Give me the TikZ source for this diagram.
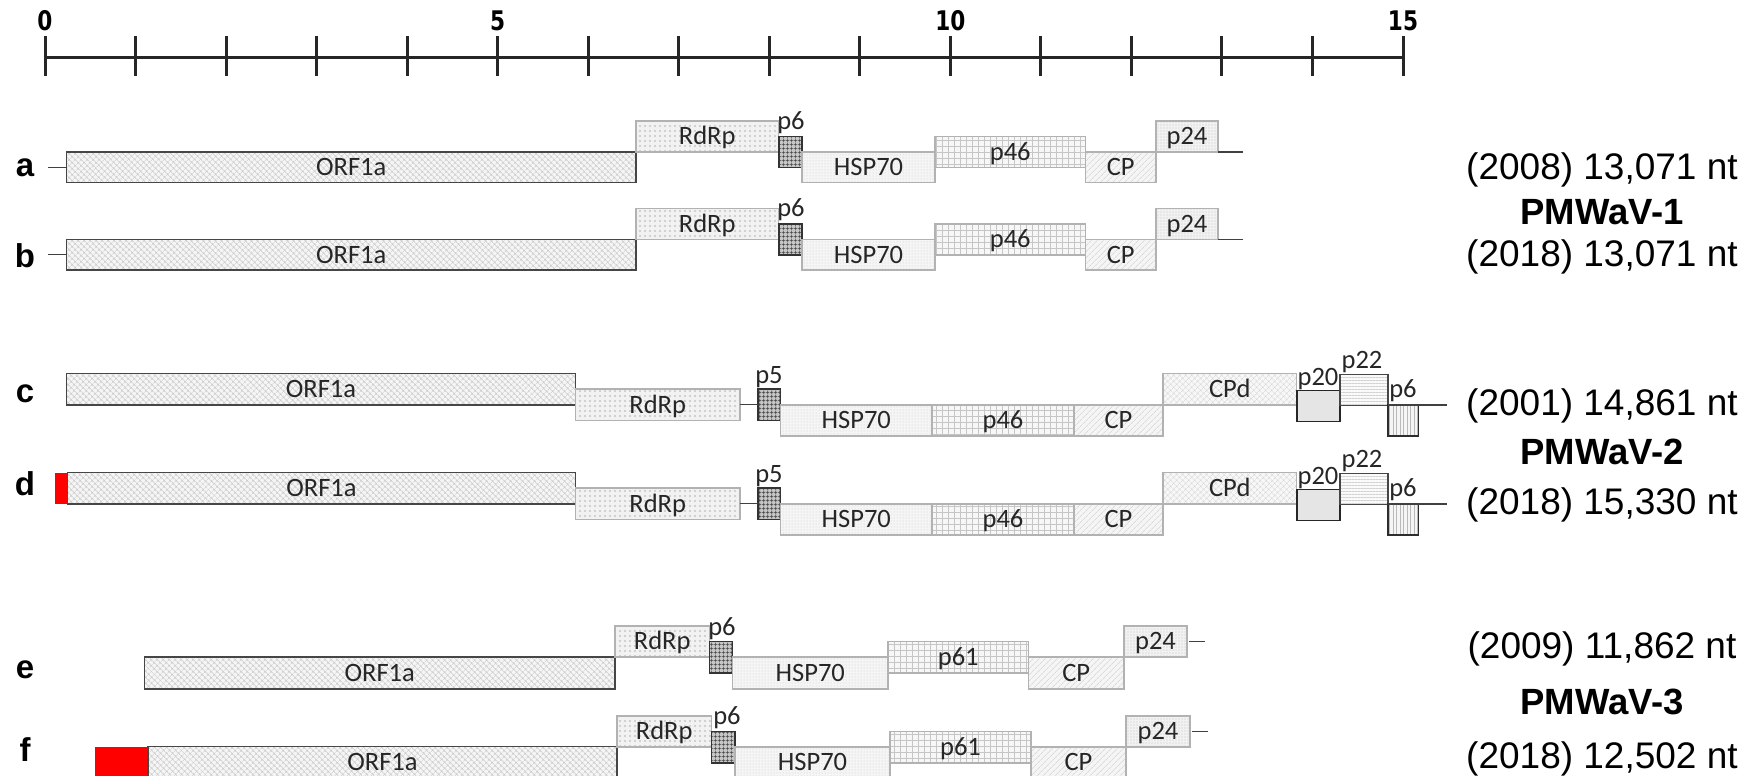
\documentclass[tikz,border=0pt]{standalone}
\usepackage{fontspec}
\usetikzlibrary{patterns.meta}
\newfontfamily\arialf{Liberation Sans}
\newfontfamily\calf{Carlito}
\newfontfamily\dvf[FakeStretch=0.8]{DejaVu Sans}
\newcommand\gene[7]{\node[gene,#2,minimum width={((#5)-(#3))*1pt},minimum height={((#6)-(#4))*1pt}] (#1) at (#3,{#4}) {#7};}
\tikzset{
 gene/.style={draw=gray!60, line width=1.3pt, inner sep=0pt, outer sep=0pt, anchor=north west,
   font=\calf\fontsize{26.5}{28}\selectfont, text=black!85, text height=16.5pt, text depth=0pt},
 orfp/.style={draw=gray!55!black, preaction={fill=gray!8}, pattern={Hatch[angle=45,distance=4pt,line width=0.5pt]}, pattern color=gray!40},
 rdrpp/.style={preaction={fill=gray!10}, pattern={Dots[distance=5pt,radius=1.1pt]}, pattern color=gray!45},
 brickp/.style={draw=gray!40!black, preaction={fill=gray!45}, pattern={Hatch[angle=0,distance=4pt,line width=0.8pt]}, pattern color=black!75},
 hspp/.style={preaction={fill=gray!8}, pattern={Dots[distance=3pt,radius=0.5pt]}, pattern color=gray!40},
 gridp/.style={preaction={fill=gray!6}, pattern={Hatch[angle=0,distance=6pt,line width=0.5pt]}, pattern color=gray!45},
 cpp/.style={preaction={fill=gray!8}, pattern={Lines[angle=45,distance=4pt,line width=0.5pt]}, pattern color=gray!40},
 dotp/.style={preaction={fill=gray!10}, pattern={Dots[distance=3pt,radius=0.6pt]}, pattern color=gray!45},
 cpdp/.style={preaction={fill=gray!6}, pattern={Hatch[angle=45,distance=4pt,line width=0.3pt]}, pattern color=gray!35},
 p20p/.style={draw=gray!30!black, fill=gray!20},
 p22p/.style={draw=gray!55!black, preaction={fill=gray!4}, pattern={Lines[angle=0,distance=3pt,line width=0.4pt]}, pattern color=gray!35},
 vlinep/.style={draw=gray!35!black, preaction={fill=gray!8}, pattern={Lines[angle=90,distance=3.5pt,line width=0.5pt]}, pattern color=gray!55},
 redp/.style={draw=none, fill=red},
 glab/.style={font=\calf\fontsize{26.5}{28}\selectfont, text=black!85, inner sep=0pt, text height=16.5pt, text depth=0pt},
 letter/.style={font=\arialf\bfseries\fontsize{33}{36}\selectfont, inner sep=0pt},
 rlab/.style={font=\arialf\fontsize{37}{40}\selectfont, inner sep=0pt},
 rname/.style={font=\arialf\bfseries\fontsize{36.5}{40}\selectfont, inner sep=0pt},
 scl/.style={font=\dvf\bfseries\fontsize{27}{28}\selectfont, inner sep=0pt},
 stub/.style={draw=gray!50!black, line width=1.3pt},
 axisline/.style={draw=black!85, line width=3pt}
}
\begin{document}
\begin{tikzpicture}[x=1pt,y=-1pt]
\clip (0,0) rectangle (1749,776);
\fill[white] (0,0) rectangle (1749,776);
% scale bar
\coordinate (ax0) at (45,57.5);
\coordinate (ax15) at (1403,57.5);
\draw[axisline] (ax0) -- (ax15);
\foreach \i in {0,...,15}{
  \draw[axisline] ({45+90.533*\i},36) -- ({45+90.533*\i},76);
}
\node[scl] (s0) at (45,21) {0};
\node[scl] (s5) at (497.7,21) {5};
\node[scl] (s10) at (950.3,21) {10};
\node[scl] (s15) at (1403,21) {15};

% rows a, b (PMWaV-1)
\foreach \r/\dy in {a/0,b/87.5}{
  \node[letter] (\r-l) at (25,{168+\dy}) {\r};
  \coordinate (\r-s) at (48,{167.25+\dy});
  \gene{\r-orf}{orfp}{66.5}{152+\dy}{636}{182.5+\dy}{ORF1a}
  \gene{\r-rdrp}{rdrpp}{636}{121+\dy}{778.5}{152+\dy}{RdRp}
  \gene{\r-p6}{brickp}{779}{136.5+\dy}{802}{167.5+\dy}{}
  \node[glab] (\r-p6l) at (791,{121+\dy}) {p6};
  \gene{\r-hsp}{hspp}{802}{152+\dy}{935}{182.5+\dy}{HSP70}
  \gene{\r-p46}{gridp}{935}{136.5+\dy}{1085.5}{167.5+\dy}{p46}
  \gene{\r-cp}{cpp}{1085.5}{152+\dy}{1156}{182.5+\dy}{CP}
  \gene{\r-p24}{dotp}{1156}{121+\dy}{1218}{152+\dy}{p24}
  \coordinate (\r-e) at (1243,{152+\dy});
  \draw[stub] (\r-s) -- (\r-orf.west);
  \draw[stub] (\r-p24.south east) -- (\r-e);
}
\node[rlab] (t1) at (1602,170) {(2008) 13,071 nt};
\node[rname] (n1) at (1602,212) {PMWaV-1};
\node[rlab] (t2) at (1602,257) {(2018) 13,071 nt};

% rows c, d (PMWaV-2)
\foreach \r/\dy/\xs in {c/0/66.5,d/99/67.5}{
  \gene{\r-orf}{orfp}{\xs}{373.5+\dy}{575.5}{405+\dy}{ORF1a}
  \gene{\r-rdrp}{rdrpp}{575.5}{389+\dy}{740}{420.5+\dy}{RdRp}
  \gene{\r-p5}{brickp}{758}{389+\dy}{780.5}{420.5+\dy}{}
  \node[glab] (\r-p5l) at (769,{375+\dy}) {p5};
  \gene{\r-hsp}{hspp}{780.5}{405+\dy}{932}{436+\dy}{HSP70}
  \gene{\r-p46}{gridp}{932}{405+\dy}{1074}{436+\dy}{p46}
  \gene{\r-cp}{cpp}{1074}{405+\dy}{1163}{436+\dy}{CP}
  \gene{\r-cpd}{cpdp}{1163}{373.5+\dy}{1296.5}{405+\dy}{CPd}
  \gene{\r-p20}{p20p}{1297}{390.5+\dy}{1340}{421.5+\dy}{}
  \node[glab] (\r-p20l) at (1318,{377+\dy}) {p20};
  \gene{\r-p22}{p22p}{1340}{374.5+\dy}{1388}{405.5+\dy}{}
  \node[glab] (\r-p22l) at (1362,{360+\dy}) {p22};
  \gene{\r-p6}{vlinep}{1388}{405+\dy}{1418.5}{436+\dy}{}
  \node[glab] (\r-p6l) at (1403,{389+\dy}) {p6};
  \coordinate (\r-e) at (1446.5,{405+\dy});
  \draw[stub] (\r-rdrp.east) -- (\r-p5.west);
  \draw[stub] (\r-p6.north west) -- (\r-e);
}
\node[letter] (c-l) at (25,394) {c};
\node[letter] (d-l) at (25,484) {d};
\gene{d-red}{redp}{55}{472.5}{67.5}{504}{}
\node[rlab] (t3) at (1602,406) {(2001) 14,861 nt};
\node[rname] (n2) at (1602,452) {PMWaV-2};
\node[rlab] (t4) at (1602,505) {(2018) 15,330 nt};

% rows e, f (PMWaV-3)
\node[letter] (e-l) at (25,670) {e};
\gene{e-orf}{orfp}{144.5}{657}{615}{689}{ORF1a}
\gene{e-rdrp}{rdrpp}{615}{626}{709.5}{657}{RdRp}
\gene{e-p6}{brickp}{709.5}{641.5}{732.5}{673}{}
\node[glab] (e-p6l) at (722,627) {p6};
\gene{e-hsp}{hspp}{732.5}{657}{888}{689}{HSP70}
\gene{e-p61}{gridp}{888}{641.5}{1028.5}{673}{p61}
\gene{e-cp}{cpp}{1028.5}{657}{1124}{689}{CP}
\gene{e-p24}{dotp}{1124}{626}{1187}{657}{p24}
\coordinate (e-s) at (1189,641.5);
\coordinate (e-e) at (1205,641.5);
\draw[stub] (e-s) -- (e-e);

\node[letter] (f-l) at (25,750) {f};
\gene{f-red}{redp}{94.5}{746.5}{148}{778}{}
\gene{f-orf}{orfp}{148}{746.5}{617}{778}{ORF1a}
\gene{f-rdrp}{rdrpp}{617}{716}{711.5}{747}{RdRp}
\gene{f-p6}{brickp}{711.5}{731.5}{735}{763}{}
\node[glab] (f-p6l) at (727,716) {p6};
\gene{f-hsp}{hspp}{735}{747}{890}{778}{HSP70}
\gene{f-p61}{gridp}{890}{731.5}{1031}{763}{p61}
\gene{f-cp}{cpp}{1031}{747}{1126}{778}{CP}
\gene{f-p24}{dotp}{1126}{716}{1190}{747}{p24}
\coordinate (f-s) at (1192,731.5);
\coordinate (f-e) at (1208,731.5);
\draw[stub] (f-s) -- (f-e);

\node[rlab] (t5) at (1602,649) {(2009) 11,862 nt};
\node[rname] (n3) at (1602,702) {PMWaV-3};
\node[rlab] (t6) at (1602,758.5) {(2018) 12,502 nt};
\end{tikzpicture}
\end{document}
